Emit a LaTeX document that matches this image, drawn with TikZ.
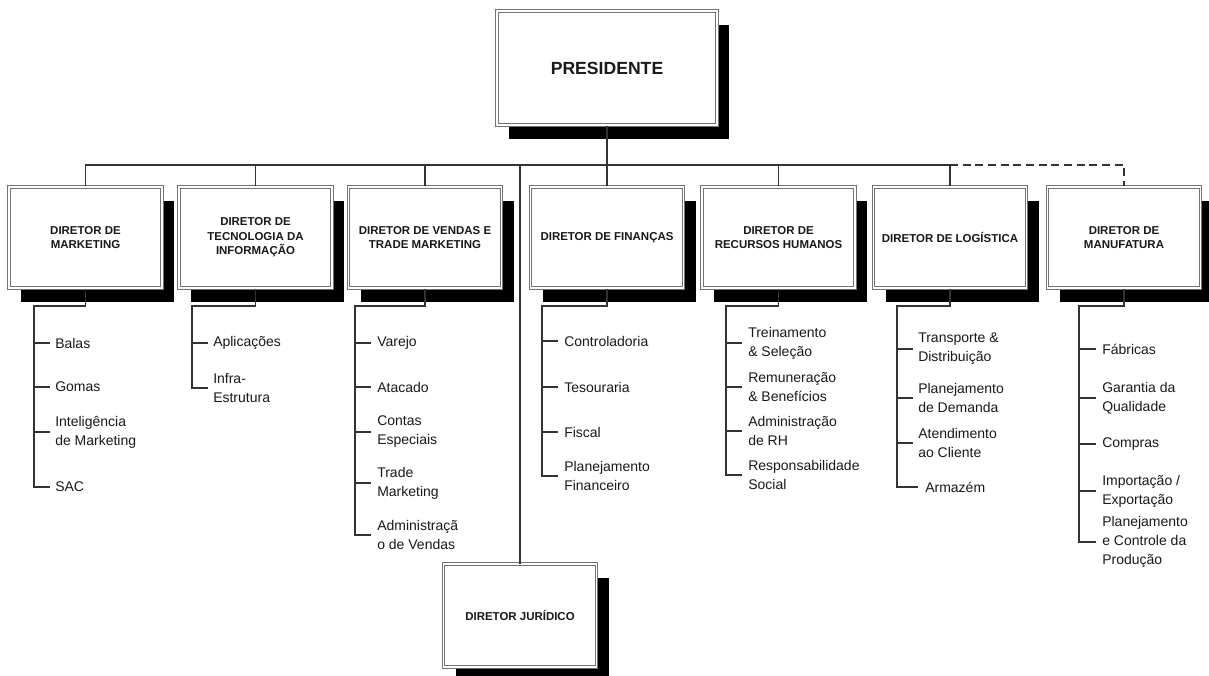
\documentclass[tikz,border=0pt]{standalone}
\usepackage{fontspec}
\setmainfont{Liberation Sans}
\usetikzlibrary{shadows}
\begin{document}
\begin{tikzpicture}[x=0.75pt,y=-0.75pt,
  conn/.style={draw=black!80,line width=1.05pt},
  dirbox/.style={draw=black!55,double=white,double distance=1.1pt,line width=0.85pt,
    fill=white,align=center,text=black!90,
    general shadow={fill=black,shadow xshift=9pt,shadow yshift=-10.5pt},
    font=\bfseries\fontsize{8.6}{10.9}\selectfont,
    minimum width=114.75pt,minimum height=76pt,inner sep=0pt},
  item/.style={anchor=west,align=left,inner sep=0pt,text=black!90,
    font=\fontsize{10.5}{14.2}\selectfont},
  tick/.style={conn}]
\clip (0,0) rectangle (1209,675);
\fill[white] (0,0) rectangle (1209,675);

% ---- boxes ----
\node[dirbox,minimum width=165pt,minimum height=85.5pt,
  font=\bfseries\fontsize{13.2}{16}\selectfont] (pres) at (607,68) {PRESIDENTE};
\node[dirbox] (mkt) at (85.5,237.5) {DIRETOR DE\\MARKETING};
\node[dirbox] (ti)  at (255.5,237.5) {DIRETOR DE\\TECNOLOGIA DA\\INFORMAÇÃO};
\node[dirbox] (ven) at (425,237.5) {DIRETOR DE VENDAS E\\TRADE MARKETING};
\node[dirbox] (fin) at (607,237.5) {DIRETOR DE FINANÇAS};
\node[dirbox] (rh)  at (778.5,237.5) {DIRETOR DE\\RECURSOS HUMANOS};
\node[dirbox] (log) at (950,237.5) {DIRETOR DE LOGÍSTICA};
\node[dirbox] (man) at (1124,237.5) {DIRETOR DE\\MANUFATURA};
\node[dirbox,minimum height=77pt] (jur) at (520,615.5) {DIRETOR JURÍDICO};

% ---- bus from the president ----
\coordinate (bus) at (0,165);
\draw[conn] (mkt.north) -- (mkt.north |- bus) -- (log.north |- bus) -- (log.north);
\draw[conn] (ti.north) -- (ti.north |- bus);
\draw[conn] (ven.north) -- (ven.north |- bus);
\draw[conn] (rh.north) -- (rh.north |- bus);
\draw[conn] (pres.south) -- (fin.north);
\draw[conn] (jur.north) -- (jur.north |- bus);
\draw[conn,dash pattern=on 6pt off 3.5pt] (log.north |- bus) -- (man.north |- bus) -- (man.north);

% ---- Marketing ----
\coordinate (s1) at (34,306);
\node[item] (balas) at (55,343) {Balas};
\node[item] (gomas) at (55,387) {Gomas};
\node[item] (intel) at (55,432) {Inteligência\\de Marketing};
\node[item] (sac)   at (55,487) {SAC};
\draw[conn] (mkt.south) |- (s1) -- (s1 |- sac.west) -- ++(16,0);
\foreach \n in {balas,gomas,intel} \draw[tick] (s1 |- \n.west) -- ++(16,0);

% ---- Tecnologia da Informação ----
\coordinate (s2) at (192,306);
\node[item] (apl)   at (213,343) {Aplicações};
\node[item] (infra) at (213,388) {Infra-\\Estrutura};
\draw[conn] (ti.south) |- (s2) -- (s2 |- infra.west) -- ++(16,0);
\draw[tick] (s2 |- apl.west) -- ++(16,0);

% ---- Vendas e Trade Marketing ----
\coordinate (s3) at (355,306);
\node[item] (varejo)  at (377,343) {Varejo};
\node[item] (atacado) at (377,387) {Atacado};
\node[item] (contas)  at (377,432) {Contas\\Especiais};
\node[item] (trade)   at (377,483) {Trade\\Marketing};
\node[item] (admv)    at (377,535) {Administraçã\\o de Vendas};
\draw[conn] (ven.south) |- (s3) -- (s3 |- admv.west) -- ++(16,0);
\foreach \n in {varejo,atacado,contas,trade} \draw[tick] (s3 |- \n.west) -- ++(16,0);

% ---- Finanças ----
\coordinate (s4) at (542,306);
\node[item] (contr)  at (564,341) {Controladoria};
\node[item] (tes)    at (564,387) {Tesouraria};
\node[item] (fiscal) at (564,432) {Fiscal};
\node[item] (planf)  at (564,476) {Planejamento\\Financeiro};
\draw[conn] (fin.south) |- (s4) -- (s4 |- planf.west) -- ++(16,0);
\foreach \n in {contr,tes,fiscal} \draw[tick] (s4 |- \n.west) -- ++(16,0);

% ---- Recursos Humanos ----
\coordinate (s5) at (726,306);
\node[item] (trein) at (748,343) {Treinamento\\\& Seleção};
\node[item] (remun) at (748,387) {Remuneração\\\& Benefícios};
\node[item] (admrh) at (748,431) {Administração\\de RH};
\node[item] (resp)  at (748,475) {Responsabilidade\\Social};
\draw[conn] (rh.south) |- (s5) -- (s5 |- resp.west) -- ++(16,0);
\foreach \n in {trein,remun,admrh} \draw[tick] (s5 |- \n.west) -- ++(16,0);

% ---- Logística ----
\coordinate (s6) at (897,306);
\node[item] (transp) at (918,349) {Transporte \&\\Distribuição};
\node[item] (pland)  at (918,398) {Planejamento\\de Demanda};
\node[item] (atend)  at (918,443) {Atendimento\\ao Cliente};
\node[item] (armaz)  at (925,487) {Armazém};
\draw[conn] (log.south) |- (s6) -- (s6 |- armaz.west) -- ++(21,0);
\foreach \n in {transp,pland,atend} \draw[tick] (s6 |- \n.west) -- ++(16,0);

% ---- Manufatura ----
\coordinate (s7) at (1079,306);
\node[item] (fabr) at (1102,349) {Fábricas};
\node[item] (gar)  at (1102,398) {Garantia da\\Qualidade};
\node[item] (comp) at (1102,444) {Compras};
\node[item] (imp)  at (1102,491) {Importação /\\Exportação};
\node[item] (pcp)  at (1102,542) {Planejamento\\e Controle da\\Produção};
\draw[conn] (man.south) |- (s7) -- (s7 |- pcp.west) -- ++(17,0);
\foreach \n in {fabr,gar,comp,imp} \draw[tick] (s7 |- \n.west) -- ++(17,0);
\end{tikzpicture}
\end{document}
